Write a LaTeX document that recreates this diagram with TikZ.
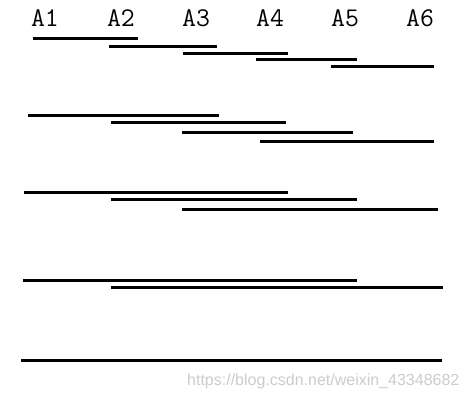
\documentclass[tikz,border=0pt]{standalone}
\usepackage{fontspec}
\newfontfamily\wmfont{Liberation Sans}
\begin{document}
\begin{tikzpicture}[x=1pt,y=-1pt,
  bar/.style={line width=3pt,black},
  lab/.style={anchor=base,inner sep=0pt,font=\ttfamily\fontsize{27}{27}\selectfont},
  wm/.style={anchor=base west,inner sep=0pt,text=black!20,font=\wmfont\fontsize{16}{16}\selectfont}]
\useasboundingbox (0,0) rectangle (467,401);
\fill[white] (0,0) rectangle (467,401);
% labels
\node[lab] (a1) at (45,27) {A1};
\node[lab] (a2) at (121,27) {A2};
\node[lab] (a3) at (196,27) {A3};
\node[lab] (a4) at (270,27) {A4};
\node[lab] (a5) at (345,27) {A5};
\node[lab] (a6) at (420,27) {A6};
% row 1
\draw[bar] (33,39) -- (138,39);
\draw[bar] (109,46.5) -- (217,46.5);
\draw[bar] (183,54) -- (288,54);
\draw[bar] (256,60) -- (357,60);
\draw[bar] (331,67) -- (434,67);
% row 2
\draw[bar] (28,116) -- (219,116);
\draw[bar] (111,123) -- (286,123);
\draw[bar] (182,133) -- (353,133);
\draw[bar] (260,142) -- (434,142);
% row 3
\draw[bar] (24,193) -- (288,193);
\draw[bar] (111,200) -- (357,200);
\draw[bar] (182,210) -- (438,210);
% row 4
\draw[bar] (23,281) -- (357,281);
\draw[bar] (111,288) -- (443,288);
% row 5
\draw[bar] (21,361) -- (442,361);
% watermark
\node[wm] (wmk) at (187,386) {https://blog.csdn.net/weixin\_43348682};
\end{tikzpicture}
\end{document}
